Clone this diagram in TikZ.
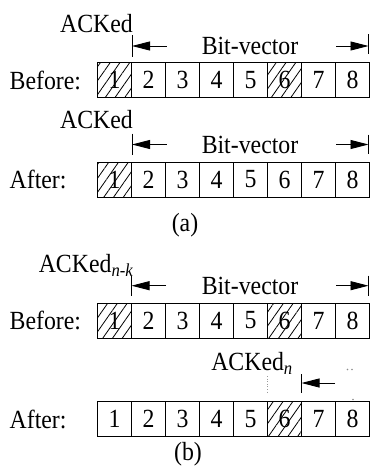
\documentclass[tikz,border=0pt]{standalone}
\usepackage{graphicx}
\usepackage{fontspec}
\setmainfont{Liberation Serif}
\usetikzlibrary{arrows.meta,patterns.meta}
\newcommand\txt{\fontsize{23.8}{28}\selectfont}
% the lettering is set slightly taller than wide
\newcommand\tall[1]{\scalebox{1}[1.1]{#1}}
\tikzset{
  cell/.style={draw, line width=1pt, minimum width=34pt, minimum height=35pt,
               inner sep=0pt, font=\txt},
  hatched/.style={pattern={Lines[angle=55,distance=8pt,line width=0.8pt]}},
  lbl/.style={inner sep=0pt, font=\txt},
  tickline/.style={line width=0.9pt},
  span/.style={line width=0.9pt, -{Triangle[length=18pt,width=9pt]}},
  speck/.style={fill=black!45, draw=none},
}
\begin{document}
\begin{tikzpicture}[x=1pt,y=-1pt]
\useasboundingbox (0,0) rectangle (371,471);

% ---------- (a) before ----------
\node[lbl, anchor=base east] (ack1) at (133,32) {\tall{ACKed}};
\node[lbl, anchor=base] (bv1) at (250,54.5) {\tall{Bit-vector}};
\coordinate (l1) at (132,46); \coordinate (l1s) at (166.5,46);
\coordinate (r1) at (368.5,46); \coordinate (r1s) at (336,46);
\draw[tickline] ([yshift=11pt]l1) -- ([yshift=-11pt]l1);
\draw[tickline] ([yshift=12pt]r1) -- ([yshift=-8pt]r1);
\draw[span] (l1s) -- (l1);
\draw[span] (r1s) -- (r1);
\node[lbl, anchor=base west] (bef1) at (9.5,89) {\tall{Before:}};
\foreach \i/\s in {1/hatched,2/,3/,4/,5/,6/hatched,7/,8/}
  \node[cell,\s] (a\i) at ({80.5+34*\i},80) {\tall{\i}};

% ---------- (a) after ----------
\node[lbl, anchor=base east] (ack2) at (133,128) {\tall{ACKed}};
\node[lbl, anchor=base] (bv2) at (250,153.5) {\tall{Bit-vector}};
\coordinate (l2) at (132,144.5); \coordinate (l2s) at (166.5,144.5);
\coordinate (r2) at (368.5,144.5); \coordinate (r2s) at (336,144.5);
\draw[tickline] ([yshift=11pt]l2) -- ([yshift=-10pt]l2);
\draw[tickline] ([yshift=10pt]r2) -- ([yshift=-9pt]r2);
\draw[span] (l2s) -- (l2);
\draw[span] (r2s) -- (r2);
\node[lbl, anchor=base west] (aft1) at (9.5,188.5) {\tall{After:}};
\foreach \i/\s in {1/hatched,2/,3/,4/,5/,6/,7/,8/}
  \node[cell,\s] (b\i) at ({80.5+34*\i},179.5) {\tall{\i}};
\node[lbl] (capa) at (185,225) {\tall{(a)}};

% ---------- (b) before ----------
\node[lbl, anchor=base east] (ack3) at (133.5,272) {\tall{ACKed\textsubscript{\itshape n-k}}};
\node[lbl, anchor=base] (bv3) at (250,294) {\tall{Bit-vector}};
\coordinate (l3) at (131.5,285.7); \coordinate (l3s) at (166,285.7);
\coordinate (r3) at (368.5,285.7); \coordinate (r3s) at (336,285.7);
\draw[tickline] ([yshift=10pt]l3) -- ([yshift=-10pt]l3);
\draw[tickline] ([yshift=10pt]r3) -- ([yshift=-10pt]r3);
\draw[span] (l3s) -- (l3);
\draw[span] (r3s) -- (r3);
\node[lbl, anchor=base west] (bef2) at (9.5,329.5) {\tall{Before:}};
\foreach \i/\s in {1/hatched,2/,3/,4/,5/,6/hatched,7/,8/}
  \node[cell,\s] (c\i) at ({80.5+34*\i},320.5) {\tall{\i}};

% ---------- (b) after ----------
\node[lbl, anchor=base east] (ack4) at (293,370) {\tall{ACKed\textsubscript{\itshape n}}};
\coordinate (l4) at (301.5,383); \coordinate (l4s) at (335,383);
\draw[tickline] ([yshift=9pt]l4) -- ([yshift=-10pt]l4);
\draw[span] (l4s) -- (l4);
\draw[black!40, line width=0.6pt, dotted] (267.5,376) -- (267.5,394);
\fill[speck] (347.5,369.5) circle (0.8pt) (352,369.5) circle (0.8pt) (353,399.5) circle (0.8pt);
\node[lbl, anchor=base west] (aft2) at (9.5,428) {\tall{After:}};
\foreach \i/\s in {1/,2/,3/,4/,5/,6/hatched,7/,8/}
  \node[cell,\s] (d\i) at ({80.5+34*\i},419) {\tall{\i}};
\node[lbl] (capb) at (188,454) {\tall{(b)}};
\end{tikzpicture}
\end{document}
